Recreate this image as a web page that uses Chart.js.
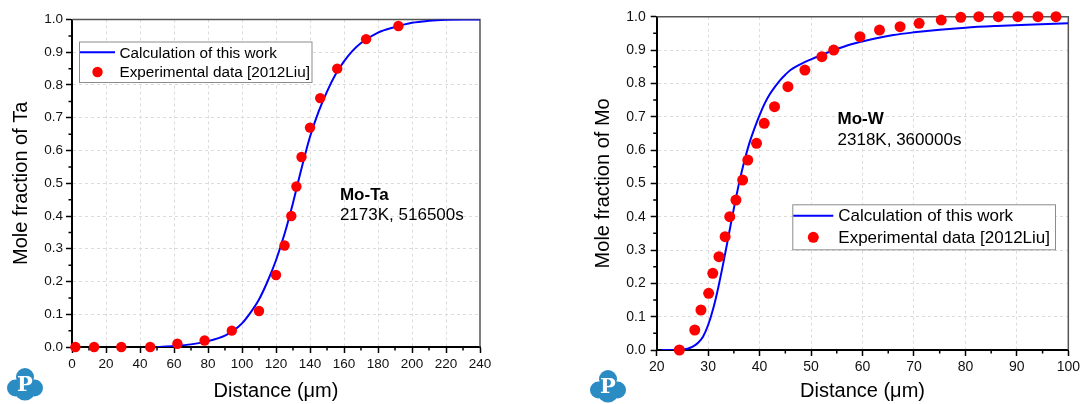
<!DOCTYPE html>
<html>
<head>
<meta charset="utf-8">
<script src="https://cdn.jsdelivr.net/npm/chart.js@4"></script>
<style>
  html, body { margin: 0; padding: 0; background: #fff; }
  #wrap { position: relative; width: 1083px; height: 404px; }
  canvas { position: absolute; top: 0; }
  #moTa { left: 0; }
  #moW { left: 541px; }
</style>
</head>
<body>
<div id="wrap">
  <canvas id="moTa" width="541" height="404"></canvas>
  <canvas id="moW" width="542" height="404"></canvas>
</div>
<script>
// Mo-Ta, 2173K, 516500s
const taCalcX = [50, 60, 70, 80, 90, 95, 100, 105, 110, 115, 120, 125, 130, 135, 140, 145, 150, 155, 160, 165, 170, 180, 190, 200, 210, 220, 230, 240];
const taCalcY = [0, 0.003, 0.008, 0.018, 0.035, 0.05, 0.072, 0.105, 0.145, 0.2, 0.265, 0.345, 0.44, 0.545, 0.642, 0.718, 0.78, 0.832, 0.872, 0.904, 0.928, 0.96, 0.977, 0.99, 0.996, 0.999, 1.0, 1.0];
const taExpX = [2, 13, 29, 46, 62, 78, 94, 110, 120, 125, 129, 132, 135, 140, 146, 156, 173, 192];
const taExpY = [0, 0, 0, 0, 0.01, 0.02, 0.05, 0.11, 0.22, 0.31, 0.40, 0.49, 0.58, 0.67, 0.76, 0.85, 0.94, 0.98];

// Mo-W, 2318K, 360000s
const wCalcX = [21, 24, 26, 27, 28, 29, 30, 31, 32, 33, 34, 35, 36, 37, 38, 39, 40, 41, 42, 43, 44, 45, 46, 48, 50, 54, 58, 62, 66, 70, 75, 80, 86, 92, 100];
const wCalcY = [0, 0.001, 0.004, 0.01, 0.021, 0.04, 0.075, 0.125, 0.19, 0.265, 0.345, 0.425, 0.5, 0.565, 0.62, 0.665, 0.705, 0.74, 0.768, 0.79, 0.81, 0.826, 0.84, 0.858, 0.872, 0.897, 0.918, 0.933, 0.945, 0.953, 0.961, 0.967, 0.972, 0.976, 0.98];
const wExpX = [24.4, 27.4, 28.6, 30.1, 30.9, 32.1, 33.3, 34.2, 35.4, 36.7, 37.7, 39.4, 40.9, 42.9, 45.5, 48.8, 52.1, 54.4, 59.5, 63.3, 67.3, 71.0, 75.3, 79.1, 82.6, 86.4, 90.2, 94.1, 97.6];
const wExpY = [0, 0.06, 0.12, 0.17, 0.23, 0.28, 0.34, 0.40, 0.45, 0.51, 0.57, 0.62, 0.68, 0.73, 0.79, 0.84, 0.88, 0.90, 0.94, 0.96, 0.97, 0.98, 0.99, 0.998, 1.0, 1.0, 1.0, 1.0, 1.0];

const calcLabel = 'Calculation of this work';
const expLabel = 'Experimental data [2012Liu]';

const FONT = 'Arial, "Liberation Sans", sans-serif';
const blue = '#0000ff';
const red = '#ff0000';

function pts(xs, ys) {
  return xs.map((x, i) => ({ x: x, y: ys[i] }));
}

function isEdge(c) {
  if (!c.tick) return false;
  return Math.abs(c.tick.value - c.scale.min) < 1e-9 || Math.abs(c.tick.value - c.scale.max) < 1e-9;
}

function drawLogo(ctx, cx, cy) {
  ctx.save();
  ctx.fillStyle = '#2b8cc4';
  [[0, -8, 9], [-9.5, 3, 8.5], [9.5, 3, 8.5], [0, 5, 10.5]].forEach(c => {
    ctx.beginPath();
    ctx.arc(cx + c[0], cy + c[1], c[2], 0, Math.PI * 2);
    ctx.fill();
  });
  ctx.fillStyle = '#fff';
  ctx.font = 'bold 21px "DejaVu Serif", serif';
  ctx.textAlign = 'center';
  ctx.textBaseline = 'middle';
  ctx.fillText('P', cx, cy + 1);
  ctx.restore();
}

const decoPlugin = {
  id: 'deco',
  beforeDatasetsDraw(chart, args, opts) {
    const ctx = chart.ctx;
    const a = chart.chartArea;
    const xs = chart.scales.x, ys = chart.scales.y;
    ctx.save();
    // top and right frame
    ctx.strokeStyle = '#555';
    ctx.lineWidth = 1.5;
    ctx.beginPath();
    ctx.moveTo(a.left, a.top);
    ctx.lineTo(a.right, a.top);
    ctx.lineTo(a.right, a.bottom);
    ctx.stroke();
    // minor ticks
    ctx.strokeStyle = '#000';
    ctx.lineWidth = 1.5;
    ctx.beginPath();
    for (let v = xs.min + opts.xMinor; v < xs.max; v += opts.xMinor * 2) {
      const p = xs.getPixelForValue(v);
      ctx.moveTo(p, a.bottom);
      ctx.lineTo(p, a.bottom + 3.5);
    }
    for (let v = ys.min + 0.05; v < ys.max; v += 0.1) {
      const p = ys.getPixelForValue(v);
      ctx.moveTo(a.left, p);
      ctx.lineTo(a.left - 3.5, p);
    }
    ctx.stroke();
    ctx.restore();
  },
  afterDraw(chart, args, opts) {
    const ctx = chart.ctx;
    const xs = chart.scales.x, ys = chart.scales.y;
    const L = opts.legend;
    ctx.save();
    // legend box
    ctx.fillStyle = '#fff';
    ctx.fillRect(L.x, L.y, L.w, L.h);
    ctx.strokeStyle = '#8c8c8c';
    ctx.lineWidth = 1;
    ctx.strokeRect(L.x + 0.5, L.y + 0.5, L.w, L.h);
    ctx.strokeStyle = blue;
    ctx.lineWidth = 2;
    ctx.beginPath();
    ctx.moveTo(L.sx1, L.row1);
    ctx.lineTo(L.sx2, L.row1);
    ctx.stroke();
    ctx.fillStyle = red;
    ctx.beginPath();
    ctx.arc((L.sx1 + L.sx2) / 2, L.row2, L.dot, 0, Math.PI * 2);
    ctx.fill();
    ctx.fillStyle = '#000';
    ctx.font = L.size + 'px ' + FONT;
    ctx.textBaseline = 'middle';
    ctx.textAlign = 'left';
    ctx.fillText(calcLabel, L.tx, L.row1 + 1);
    ctx.fillText(expLabel, L.tx, L.row2 + 1);
    // system / condition note
    ctx.textBaseline = 'alphabetic';
    opts.notes.forEach(n => {
      ctx.font = (n.bold ? 'bold ' : '') + '17px ' + FONT;
      ctx.fillText(n.text, xs.getPixelForValue(n.x), ys.getPixelForValue(n.y));
    });
    ctx.restore();
    drawLogo(ctx, opts.logo[0], opts.logo[1]);
  }
};

function makeChart(id, cfg) {
  return new Chart(document.getElementById(id), {
    type: 'scatter',
    data: {
      datasets: [
        {
          label: expLabel,
          data: pts(cfg.expX, cfg.expY),
          backgroundColor: red,
          borderWidth: 0,
          pointRadius: cfg.dot,
          pointHoverRadius: cfg.dot,
          clip: false,
          order: 0
        },
        {
          label: calcLabel,
          data: pts(cfg.calcX, cfg.calcY),
          showLine: true,
          borderColor: blue,
          borderWidth: 2,
          pointRadius: 0,
          cubicInterpolationMode: 'monotone',
          fill: false,
          order: 1
        }
      ]
    },
    options: {
      responsive: false,
      animation: false,
      events: [],
      layout: { padding: cfg.pad },
      plugins: {
        legend: { display: false },
        tooltip: { enabled: false },
        deco: { xMinor: cfg.xStep / 2, legend: cfg.legend, notes: cfg.notes, logo: cfg.logo }
      },
      scales: {
        x: {
          type: 'linear',
          min: cfg.xMin,
          max: cfg.xMax,
          afterFit: s => { s.height = cfg.xH; },
          ticks: {
            stepSize: cfg.xStep,
            autoSkip: false,
            maxRotation: 0,
            padding: 3,
            color: '#111',
            font: { family: FONT, size: cfg.tickSize },
            callback: v => v
          },
          grid: {
            color: c => isEdge(c) ? 'rgba(0,0,0,0)' : '#dcdcdc',
            lineWidth: 1,
            tickColor: '#000',
            tickLength: 6,
            tickWidth: 1.5
          },
          border: { color: '#000', width: 2, dash: [3, 3] },
          title: {
            display: true,
            text: 'Distance (μm)',
            color: '#000',
            font: { family: FONT, size: 20 },
            padding: { top: 0, bottom: 1 }
          }
        },
        y: {
          type: 'linear',
          min: 0,
          max: 1,
          afterFit: s => { s.width = cfg.yW; },
          ticks: {
            stepSize: 0.1,
            padding: cfg.yPad,
            color: '#111',
            font: { family: FONT, size: cfg.tickSize },
            callback: v => v.toFixed(1)
          },
          grid: {
            color: c => isEdge(c) ? 'rgba(0,0,0,0)' : '#dcdcdc',
            lineWidth: 1,
            tickColor: '#000',
            tickLength: 6,
            tickWidth: 1.5
          },
          border: { color: '#000', width: 2, dash: [3, 3] },
          title: {
            display: true,
            text: cfg.yTitle,
            color: '#000',
            font: { family: FONT, size: 20 },
            padding: { top: cfg.yTitlePad, bottom: 0 }
          }
        }
      }
    },
    plugins: [decoPlugin]
  });
}

makeChart('moTa', {
  calcX: taCalcX, calcY: taCalcY, expX: taExpX, expY: taExpY,
  xMin: 0, xMax: 240, xStep: 20,
  dot: 5.2,
  pad: { left: 0, top: 19.5, right: 61, bottom: 0 },
  xH: 57, yW: 72, yPad: 3, yTitlePad: 9, tickSize: 13.5,
  yTitle: 'Mole fraction of Ta',
  legend: { x: 79, y: 41.5, w: 232.5, h: 40.5, row1: 52.3, row2: 72, sx1: 80, sx2: 115, tx: 119.5, size: 15.3, dot: 5.2 },
  notes: [
    { x: 157.6, y: 0.45, text: 'Mo-Ta', bold: true },
    { x: 157.6, y: 0.389, text: '2173K, 516500s' }
  ],
  logo: [25, 385]
});

makeChart('moW', {
  calcX: wCalcX, calcY: wCalcY, expX: wExpX, expY: wExpY,
  xMin: 20, xMax: 100, xStep: 10,
  dot: 5.5,
  pad: { left: 0, top: 16.7, right: 13, bottom: 0 },
  xH: 54, yW: 115.7, yPad: 5, yTitlePad: 50.7, tickSize: 14,
  yTitle: 'Mole fraction of Mo',
  legend: { x: 251.3, y: 204.3, w: 262.7, h: 45, row1: 215.7, row2: 237.3, sx1: 252.3, sx2: 292.3, tx: 297.3, size: 17, dot: 5.5 },
  notes: [
    { x: 55.15, y: 0.678, text: 'Mo-W', bold: true },
    { x: 55.15, y: 0.615, text: '2318K, 360000s' }
  ],
  logo: [67, 387]
});
</script>
</body>
</html>
